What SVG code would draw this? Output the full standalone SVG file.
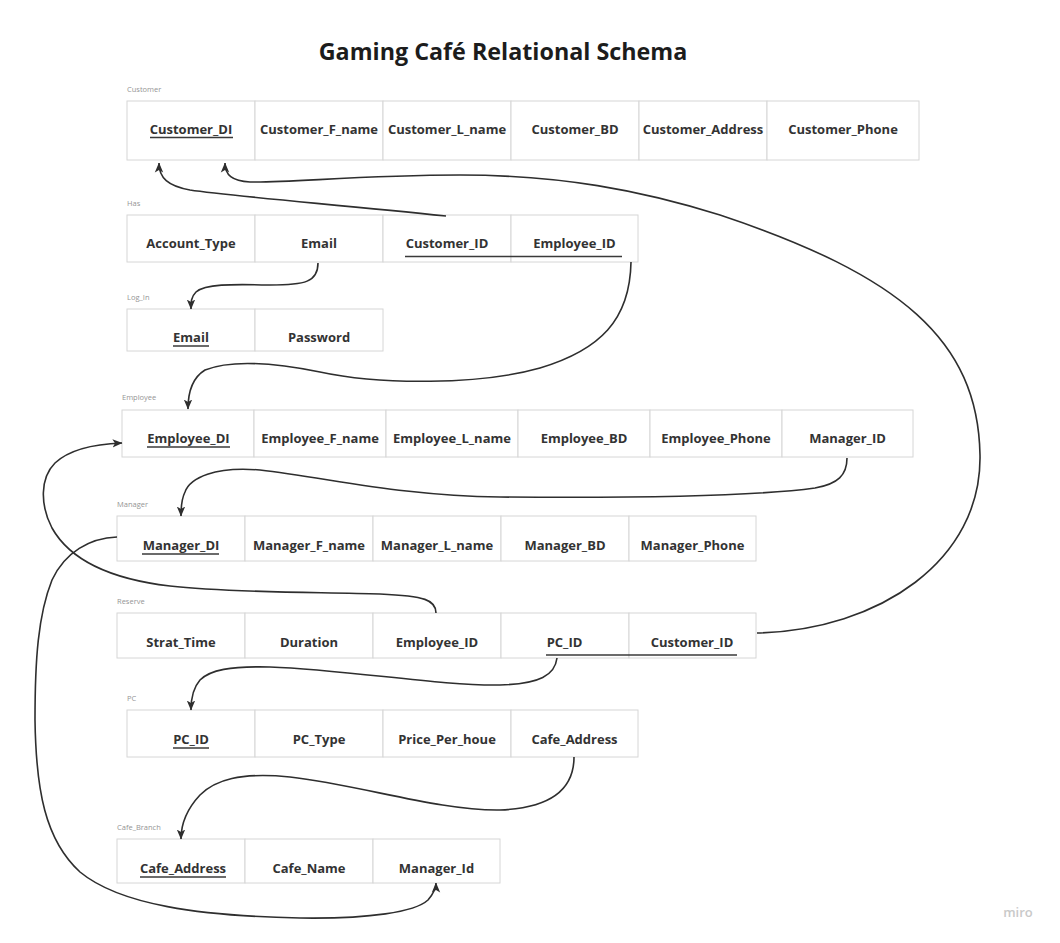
<svg xmlns="http://www.w3.org/2000/svg" width="1060" height="943" viewBox="0 0 1060 943">
<style>
.bg{fill:#ffffff}
.cell{fill:#ffffff;stroke:#d6d6d6;stroke-width:1}
.t{font-family:"Open Sans","Liberation Sans",sans-serif;font-weight:700;font-size:13px;fill:#333333;text-anchor:middle}
.lbl{font-family:"Open Sans","Liberation Sans",sans-serif;font-size:7.5px;fill:#959595}
.ul{stroke:#3a3a3a;stroke-width:1.4}
.title{font-family:"Open Sans","Liberation Sans",sans-serif;font-weight:700;font-size:23.3px;fill:#1c1c1c;text-anchor:middle}
.conn{fill:none;stroke:#2e2e2e;stroke-width:1.6;marker-end:url(#arr)}
.miro{font-family:"Open Sans","Liberation Sans",sans-serif;font-weight:600;font-size:13px;fill:#c9c9c9;text-anchor:middle}
</style>
<defs>
<marker id="arr" viewBox="0 0 10 10" refX="9.5" refY="5" markerWidth="10" markerHeight="10" markerUnits="userSpaceOnUse" orient="auto">
<path d="M0,0.8 L10,5 L0,9.2 L2.5,5 z" fill="#2e2e2e"/>
</marker>
</defs>
<rect class="bg" x="0" y="0" width="1060" height="943"/>
<text class="title" x="503" y="60">Gaming Café Relational Schema</text>

<g id="customer">
<text class="lbl" x="127" y="92">Customer</text>
<rect class="cell" x="127" y="101" width="128" height="59"/>
<rect class="cell" x="255" y="101" width="128" height="59"/>
<rect class="cell" x="383" y="101" width="128" height="59"/>
<rect class="cell" x="511" y="101" width="128" height="59"/>
<rect class="cell" x="639" y="101" width="128" height="59"/>
<rect class="cell" x="767" y="101" width="152" height="59"/>
<text class="t" x="191" y="134">Customer_DI</text>
<line class="ul" x1="150" y1="137.5" x2="233" y2="137.5"/>
<text class="t" x="319" y="134">Customer_F_name</text>
<text class="t" x="447" y="134">Customer_L_name</text>
<text class="t" x="575" y="134">Customer_BD</text>
<text class="t" x="703" y="134">Customer_Address</text>
<text class="t" x="843" y="134">Customer_Phone</text>
</g>

<g id="has">
<text class="lbl" x="127" y="206">Has</text>
<rect class="cell" x="127" y="215" width="128" height="47"/>
<rect class="cell" x="255" y="215" width="128" height="47"/>
<rect class="cell" x="383" y="215" width="128" height="47"/>
<rect class="cell" x="511" y="215" width="127" height="47"/>
<text class="t" x="191" y="248">Account_Type</text>
<text class="t" x="319" y="248">Email</text>
<text class="t" x="447" y="248">Customer_ID</text>
<text class="t" x="574.5" y="248">Employee_ID</text>
<line class="ul" x1="405" y1="256.5" x2="622" y2="256.5"/>
</g>

<g id="log_in">
<text class="lbl" x="127" y="300">Log_In</text>
<rect class="cell" x="127" y="309" width="128" height="42"/>
<rect class="cell" x="255" y="309" width="128" height="42"/>
<text class="t" x="191" y="342">Email</text>
<line class="ul" x1="173" y1="346" x2="209" y2="346"/>
<text class="t" x="319" y="342">Password</text>
</g>

<g id="employee">
<text class="lbl" x="122" y="400">Employee</text>
<rect class="cell" x="122" y="410" width="132" height="47"/>
<rect class="cell" x="254" y="410" width="132" height="47"/>
<rect class="cell" x="386" y="410" width="132" height="47"/>
<rect class="cell" x="518" y="410" width="132" height="47"/>
<rect class="cell" x="650" y="410" width="132" height="47"/>
<rect class="cell" x="782" y="410" width="131" height="47"/>
<text class="t" x="188.5" y="443">Employee_DI</text>
<line class="ul" x1="147" y1="447" x2="230" y2="447"/>
<text class="t" x="320" y="443">Employee_F_name</text>
<text class="t" x="452" y="443">Employee_L_name</text>
<text class="t" x="584" y="443">Employee_BD</text>
<text class="t" x="716" y="443">Employee_Phone</text>
<text class="t" x="847.5" y="443">Manager_ID</text>
</g>

<g id="manager">
<text class="lbl" x="117" y="507">Manager</text>
<rect class="cell" x="117" y="516" width="128" height="45"/>
<rect class="cell" x="245" y="516" width="128" height="45"/>
<rect class="cell" x="373" y="516" width="128" height="45"/>
<rect class="cell" x="501" y="516" width="128" height="45"/>
<rect class="cell" x="629" y="516" width="127" height="45"/>
<text class="t" x="181" y="550">Manager_DI</text>
<line class="ul" x1="142" y1="554" x2="219" y2="554"/>
<text class="t" x="309" y="550">Manager_F_name</text>
<text class="t" x="437" y="550">Manager_L_name</text>
<text class="t" x="565" y="550">Manager_BD</text>
<text class="t" x="692.5" y="550">Manager_Phone</text>
</g>

<g id="reserve">
<text class="lbl" x="117" y="604">Reserve</text>
<rect class="cell" x="117" y="613" width="128" height="45"/>
<rect class="cell" x="245" y="613" width="128" height="45"/>
<rect class="cell" x="373" y="613" width="128" height="45"/>
<rect class="cell" x="501" y="613" width="128" height="45"/>
<rect class="cell" x="629" y="613" width="127" height="45"/>
<text class="t" x="181" y="647">Strat_Time</text>
<text class="t" x="309" y="647">Duration</text>
<text class="t" x="437" y="647">Employee_ID</text>
<text class="t" x="564.5" y="647">PC_ID</text>
<text class="t" x="692" y="647">Customer_ID</text>
<line class="ul" x1="546" y1="655" x2="737" y2="655"/>
</g>

<g id="pc">
<text class="lbl" x="127" y="701">PC</text>
<rect class="cell" x="127" y="710" width="128" height="47"/>
<rect class="cell" x="255" y="710" width="128" height="47"/>
<rect class="cell" x="383" y="710" width="128" height="47"/>
<rect class="cell" x="511" y="710" width="127" height="47"/>
<text class="t" x="191" y="744">PC_ID</text>
<line class="ul" x1="173" y1="748" x2="209" y2="748"/>
<text class="t" x="319" y="744">PC_Type</text>
<text class="t" x="447" y="744">Price_Per_houe</text>
<text class="t" x="574.5" y="744">Cafe_Address</text>
</g>

<g id="cafe_branch">
<text class="lbl" x="117" y="830">Cafe_Branch</text>
<rect class="cell" x="117" y="839" width="128" height="44"/>
<rect class="cell" x="245" y="839" width="128" height="44"/>
<rect class="cell" x="373" y="839" width="127" height="44"/>
<text class="t" x="183" y="873">Cafe_Address</text>
<line class="ul" x1="140" y1="877" x2="226" y2="877"/>
<text class="t" x="309" y="873">Cafe_Name</text>
<text class="t" x="436.5" y="873">Manager_Id</text>
</g>

<g id="connectors">
<path class="conn" d="M 446 216 C 330 204, 230 196, 190 190 C 168 186, 159 178, 159 163"/>
<path class="conn" d="M 757 633 C 880 630, 982 560, 980 455 C 978 340, 900 275, 720 215 C 640 190, 560 175, 460 175 C 360 175, 290 183, 250 182 C 232 181, 225 175, 225 163"/>
<path class="conn" d="M 318 263 C 318 282, 305 285, 270 285 C 230 284, 205 284, 196 292 C 191 297, 191 302, 191 309"/>
<path class="conn" d="M 631 262 C 630 320, 600 350, 540 368 C 480 385, 380 385, 320 372 C 270 362, 230 360, 205 370 C 192 378, 188 392, 188 409"/>
<path class="conn" d="M 847 458 C 847 475, 838 484, 815 488 C 750 497, 620 498, 500 497 C 400 496, 330 478, 260 470 C 215 466, 190 478, 185 492 C 181 500, 181 508, 181 516"/>
<path class="conn" d="M 436 613 C 436 600, 425 596, 380 594 C 320 592, 230 593, 170 586 C 110 579, 70 560, 52 528 C 40 505, 40 478, 55 463 C 70 449, 95 444, 122 443"/>
<path class="conn" d="M 117 537 C 90 538, 65 552, 52 580 C 38 615, 35 660, 35 720 C 36 790, 45 840, 80 872 C 120 905, 200 916, 300 918 C 370 919, 415 912, 428 900 C 434 893, 436 888, 436 883"/>
<path class="conn" d="M 557 658 C 555 675, 540 684, 500 685 C 440 686, 350 670, 270 667 C 230 666, 210 670, 200 680 C 193 688, 191 698, 191 710"/>
<path class="conn" d="M 574 757 C 574 790, 550 808, 500 810 C 440 811, 360 785, 290 777 C 240 772, 215 780, 200 795 C 186 810, 181 825, 181 839"/>
</g>

<text class="miro" x="1018" y="917">miro</text>
</svg>
